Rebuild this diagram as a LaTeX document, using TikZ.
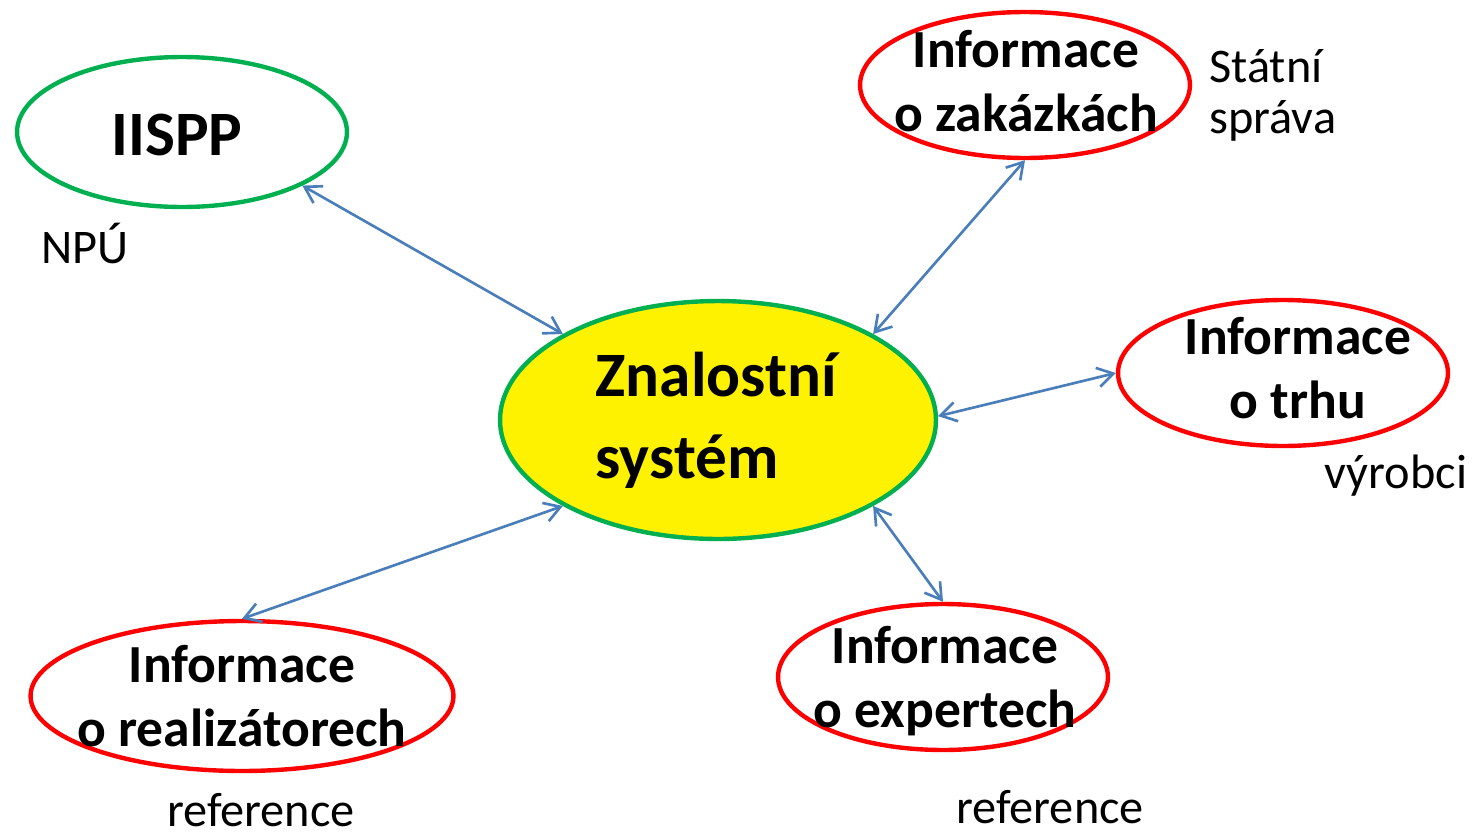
\documentclass[tikz,border=0pt]{standalone}
\usepackage{fontspec}
\setmainfont{Carlito}
\usetikzlibrary{arrows.meta,%
                shapes.geometric}
\definecolor{ovalgreen}{RGB}{0,176,80}
\definecolor{ovalred}{RGB}{255,0,0}
\definecolor{linkblue}{RGB}{74,126,187}

\begin{document}
\begin{tikzpicture}[x=0.02cm,y=-0.02cm]
  \tikzstyle{Oval}=[ellipse,draw,line width=2.5pt,inner sep=0pt]
  \tikzstyle{BigText}=[font=\bfseries\fontsize{30.5}{36}\selectfont,align=center,inner sep=0pt]
  \tikzstyle{SmallText}=[font=\fontsize{27.5}{29}\selectfont,inner sep=0pt]
  \tikzstyle{Link}=[draw=linkblue,line width=1.5pt,
                    {Straight Barb[length=9pt,width=11pt]}-{Straight Barb[length=9pt,width=11pt]}]
  \useasboundingbox (0,0) rectangle (1478,839);
  % ovals
  \node[Oval,draw=ovalgreen,fill=yellow,minimum width=8.72cm,minimum height=4.76cm] (znal) at (718,420) {};
  \node[Oval,draw=ovalgreen,minimum width=6.6cm,minimum height=3.0cm] (iispp) at (182,132) {};
  \node[Oval,draw=ovalred,minimum width=6.6cm,minimum height=2.92cm] (zakaz) at (1025,85) {};
  \node[Oval,draw=ovalred,minimum width=6.6cm,minimum height=2.92cm] (trh) at (1283,373) {};
  \node[Oval,draw=ovalred,minimum width=6.6cm,minimum height=2.92cm] (expert) at (943,677) {};
  \node[Oval,draw=ovalred,minimum width=8.46cm,minimum height=3.0cm] (realiz) at (242,696) {};
  % texts in ovals
  \node[BigText,font=\bfseries\fontsize{36}{46.5}\selectfont,align=left] (znal-t) at (716,420) {Znalostní\\systém};
  \node[BigText,font=\bfseries\fontsize{36}{44}\selectfont,anchor=base] (iispp-t) at (177,155) {IISPP};
  \node[BigText] (zakaz-t) at (1026,81) {Informace\\o zakázkách};
  \node[BigText] (trh-t) at (1298,368) {Informace\\o trhu};
  \node[BigText] (expert-t) at (945,681) {Informace\\o expertech};
  \node[BigText] (realiz-t) at (242,696) {Informace\\o realizátorech};
  % side labels
  \node[SmallText,align=left,anchor=west] (stat) at (1209,95) {Státní\\správa};
  \node[SmallText,anchor=base] (npu) at (85,263) {NPÚ};
  \node[SmallText,anchor=base] (vyrob) at (1396,488) {výrobci};
  \node[SmallText,anchor=base] (ref-l) at (261,826) {reference};
  \node[SmallText,anchor=base] (ref-r) at (1050,823) {reference};
  % links
  \draw[Link] (iispp.-24) -- (znal.151);
  \draw[Link] (zakaz.south) -- (znal.29);
  \draw[Link] (trh.west) -- (znal.1);
  \draw[Link] (expert.north) -- (znal.-29);
  \draw[Link] (realiz.north) -- (znal.-151);
\end{tikzpicture}
\end{document}
